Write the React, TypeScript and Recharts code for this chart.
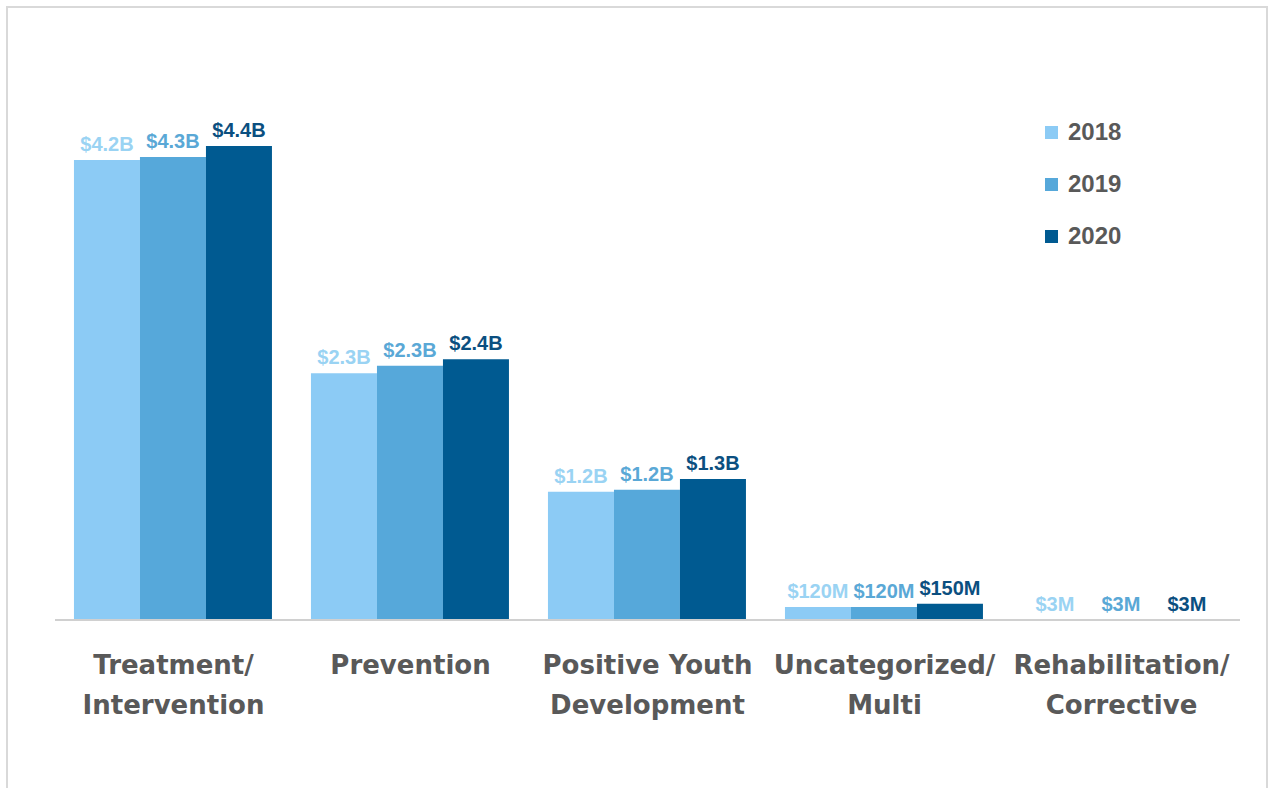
import React from "react";
import { BarChart, Bar, XAxis, YAxis, LabelList } from "recharts";

const categories = [
  "Treatment/\nIntervention",
  "Prevention",
  "Positive Youth\nDevelopment",
  "Uncategorized/\nMulti",
  "Rehabilitation/\nCorrective",
];

// values in $ millions
const values2018 = [4270, 2290, 1190, 120, 3];
const values2019 = [4300, 2360, 1210, 120, 3];
const values2020 = [4400, 2420, 1310, 150, 3];

const labels2018 = ["$4.2B", "$2.3B", "$1.2B", "$120M", "$3M"];
const labels2019 = ["$4.3B", "$2.3B", "$1.2B", "$120M", "$3M"];
const labels2020 = ["$4.4B", "$2.4B", "$1.3B", "$150M", "$3M"];

const years = ["2018", "2019", "2020"];
const barColors = ["#8ccbf5", "#56a8da", "#005a91"];
const labelColors = ["#9ad3f3", "#5aa8d6", "#0b4f80"];

const data = categories.map((name, i) => ({
  name,
  v2018: values2018[i],
  v2019: values2019[i],
  v2020: values2020[i],
  l2018: labels2018[i],
  l2019: labels2019[i],
  l2020: labels2020[i],
}));

function CategoryTick({ x, y, payload }: any) {
  const lines = String(payload.value).split("\n");
  return (
    <g transform={`translate(${x},${y})`}>
      {lines.map((line, i) => (
        <text
          key={i}
          x={0}
          y={46 + i * 40}
          textAnchor="middle"
          fill="#595959"
          fontFamily="DejaVu Sans, Verdana, sans-serif"
          fontWeight="bold"
          fontSize={26}
        >
          {line}
        </text>
      ))}
    </g>
  );
}

function makeValueLabel(color: string) {
  return function ValueLabel(props: any) {
    const { x, y, width, value } = props;
    return (
      <text
        x={x + width / 2}
        y={y - 9}
        textAnchor="middle"
        fill={color}
        fontFamily="Liberation Sans, Arial, sans-serif"
        fontWeight="bold"
        fontSize={20}
      >
        {value}
      </text>
    );
  };
}

function YearLegend() {
  return (
    <div style={{ position: "absolute", left: 1045, top: 106 }}>
      {years.map((year, i) => (
        <div
          key={year}
          style={{ display: "flex", alignItems: "center", height: 52 }}
        >
          <span
            style={{
              display: "inline-block",
              width: 13,
              height: 13,
              background: barColors[i],
              marginRight: 10,
            }}
          />
          <span
            style={{
              fontFamily: "Liberation Sans, Arial, sans-serif",
              fontWeight: "bold",
              fontSize: 24,
              color: "#595959",
            }}
          >
            {year}
          </span>
        </div>
      ))}
    </div>
  );
}

export default function App(): React.JSX.Element {
  return (
    <div
      style={{
        position: "absolute",
        left: 0,
        top: 0,
        width: 1272,
        height: 788,
        background: "#ffffff",
        overflow: "hidden",
      }}
    >
      <div
        style={{
          position: "absolute",
          left: 6,
          top: 6,
          width: 1262,
          height: 800,
          border: "2px solid #d9d9d9",
          boxSizing: "border-box",
        }}
      />
      <BarChart
        width={1272}
        height={788}
        data={data}
        margin={{ top: 81.5, right: 32, bottom: 68, left: 55 }}
        barCategoryGap="8%"
        barGap={0}
      >
        <XAxis
          dataKey="name"
          interval={0}
          height={100}
          tickLine={false}
          axisLine={{ stroke: "#d0d0d0", strokeWidth: 2 }}
          tick={<CategoryTick />}
        />
        <YAxis hide domain={[0, 5000]} />
        {years.map((year, i) => (
          <Bar
            key={year}
            dataKey={`v${year}`}
            name={year}
            fill={barColors[i]}
            isAnimationActive={false}
          >
            <LabelList dataKey={`l${year}`} content={makeValueLabel(labelColors[i])} />
          </Bar>
        ))}
      </BarChart>
      <YearLegend />
    </div>
  );
}
